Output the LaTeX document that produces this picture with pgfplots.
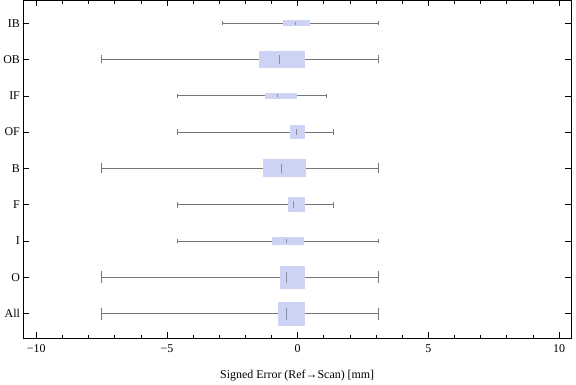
\documentclass[border=0pt]{standalone}
\usepackage{fontspec}
\setmainfont{Liberation Serif}
\usepackage{pgfplots}
\pgfplotsset{compat=1.18}
\usepgfplotslibrary{statistics}
\definecolor{boxfill}{RGB}{204,211,245}
\definecolor{whisk}{RGB}{120,120,120}
\definecolor{medc}{RGB}{140,142,165}
\begin{document}
\begin{tikzpicture}
\begin{axis}[
  scale only axis, width=551pt, height=340pt,
  xmin=-10.49, xmax=10.46, ymin=0.32, ymax=9.63,
  xtick={-10,-5,0,5,10}, xticklabels={−10,−5,0,5,10},
  minor x tick num=4,
  ytick={1,2,3,4,5,6,7,8,9},
  yticklabels={All,O,I,F,B,OF,IF,OB,IB},
  tick align=inside,
  major tick length=6pt, minor tick length=3.5pt,
  tick style={black, line width=0.5pt},
  axis line style={line width=0.6pt},
  font=\fontsize{12}{14}\selectfont,
  xticklabel style={yshift=-3pt},
  xlabel={Signed Error (Ref→Scan) [mm]},
  xlabel style={yshift=-11pt},
  boxplot/draw direction=x,
  boxplot/every box/.style={fill=boxfill, draw=none},
  boxplot/every whisker/.style={draw=whisk, line width=0.9pt},
]
% All
\addplot[draw=whisk, boxplot prepared={lower whisker=-7.52, lower quartile=-0.76, median=-0.44, upper quartile=0.27, upper whisker=3.09, draw position=1, box extend=0.66, whisker extend=0.33, every median/.style={draw=medc, line width=0.8pt, shorten <=6pt, shorten >=6pt}}] coordinates {};
% O
\addplot[draw=whisk, boxplot prepared={lower whisker=-7.52, lower quartile=-0.68, median=-0.44, upper quartile=0.27, upper whisker=3.09, draw position=2, box extend=0.63, whisker extend=0.32, every median/.style={draw=medc, line width=0.8pt, shorten <=5.75pt, shorten >=5.75pt}}] coordinates {};
% I
\addplot[draw=whisk, boxplot prepared={lower whisker=-4.61, lower quartile=-0.99, median=-0.43, upper quartile=0.23, upper whisker=3.09, draw position=3, box extend=0.22, whisker extend=0.13, every median/.style={draw=medc, line width=0.8pt, shorten <=2pt, shorten >=2pt}}] coordinates {};
% F
\addplot[draw=whisk, boxplot prepared={lower whisker=-4.61, lower quartile=-0.38, median=-0.18, upper quartile=0.27, upper whisker=1.38, draw position=4, box extend=0.41, whisker extend=0.17, every median/.style={draw=medc, line width=0.8pt, shorten <=3.75pt, shorten >=3.75pt}}] coordinates {};
% B
\addplot[draw=whisk, boxplot prepared={lower whisker=-7.52, lower quartile=-1.33, median=-0.63, upper quartile=0.34, upper whisker=3.09, draw position=5, box extend=0.49, whisker extend=0.27, every median/.style={draw=medc, line width=0.8pt, shorten <=4.5pt, shorten >=4.5pt}}] coordinates {};
% OF
\addplot[draw=whisk, boxplot prepared={lower whisker=-4.59, lower quartile=-0.30, median=-0.06, upper quartile=0.27, upper whisker=1.38, draw position=6, box extend=0.38, whisker extend=0.17, every median/.style={draw=medc, line width=0.8pt, shorten <=3.5pt, shorten >=3.5pt}}] coordinates {};
% IF
\addplot[draw=whisk, boxplot prepared={lower whisker=-4.61, lower quartile=-1.25, median=-0.77, upper quartile=-0.04, upper whisker=1.11, draw position=7, box extend=0.16, whisker extend=0.11, every median/.style={draw=medc, line width=0.8pt, shorten <=1.5pt, shorten >=1.5pt}}] coordinates {};
% OB
\addplot[draw=whisk, boxplot prepared={lower whisker=-7.52, lower quartile=-1.48, median=-0.71, upper quartile=0.30, upper whisker=3.09, draw position=8, box extend=0.46, whisker extend=0.22, every median/.style={draw=medc, line width=0.8pt, shorten <=4.25pt, shorten >=4.25pt}}] coordinates {};
% IB
\addplot[draw=whisk, boxplot prepared={lower whisker=-2.86, lower quartile=-0.57, median=-0.08, upper quartile=0.46, upper whisker=3.09, draw position=9, box extend=0.16, whisker extend=0.11, every median/.style={draw=medc, line width=0.8pt, shorten <=1.5pt, shorten >=1.5pt}}] coordinates {};
\end{axis}
\path (current axis.north east) ++(5pt,0pt) coordinate (padR);
\path (padR) circle (0pt);
\end{tikzpicture}
\end{document}
